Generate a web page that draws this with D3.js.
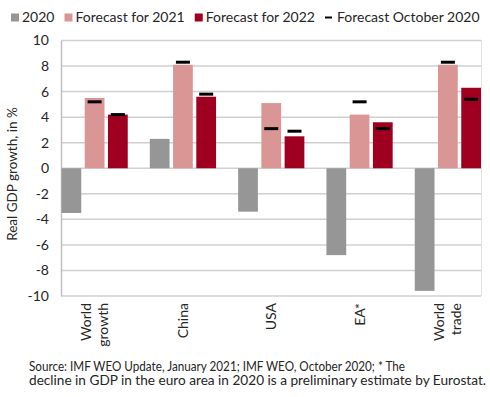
<!DOCTYPE html>
<html>
<head>
<meta charset="utf-8">
<script src="https://cdn.jsdelivr.net/npm/d3@7"></script>
<style>
  body { margin: 0; background: #fff; }
  text { font-family: Lato, "Open Sans", sans-serif; fill: #262626; }
</style>
</head>
<body>
<script>
const width = 490;
const height = 397;

// data
const categories = ["World growth", "China", "USA", "EA*", "World trade"];
const values2020 = [-3.5, 2.3, -3.4, -6.8, -9.6];
const forecast2021 = [5.5, 8.1, 5.1, 4.2, 8.1];
const forecast2022 = [4.2, 5.6, 2.5, 3.6, 6.3];
const october2021 = [5.2, 8.3, 3.1, 5.2, 8.3];
const october2022 = [4.2, 5.8, 2.9, 3.1, 5.4];
const yTicks = [-10, -8, -6, -4, -2, 0, 2, 4, 6, 8, 10];
const seriesNames = ["2020", "Forecast for 2021", "Forecast for 2022"];
const seriesColors = ["#969696", "#da9694", "#a0001f"];
const sourceLines = [
  "Source: IMF WEO Update, January 2021; IMF WEO, October 2020; * The",
  "decline in GDP in the euro area in  2020 is a preliminary estimate by Eurostat."
];

const svg = d3.select("body")
  .append("svg")
  .attr("width", width)
  .attr("height", height);

const x = d3.scaleBand()
  .domain(categories)
  .range([61.5, 481])
  .paddingInner(0.25)
  .paddingOuter(0);

const xInner = d3.scaleBand()
  .domain(seriesNames)
  .range([0, x.bandwidth()])
  .paddingInner(0.15);

const y = d3.scaleLinear()
  .domain([-10, 10])
  .range([296, 40.5]);

// grid
svg.append("g")
  .selectAll("line")
  .data(yTicks)
  .join("line")
  .attr("x1", 61)
  .attr("x2", 481)
  .attr("y1", d => y(d))
  .attr("y2", d => y(d))
  .attr("stroke", "#d0d0d0")
  .attr("stroke-width", 1.5);

// right dotted border
svg.append("line")
  .attr("x1", 481.5).attr("x2", 481.5)
  .attr("y1", y(10)).attr("y2", y(-10))
  .attr("stroke", "#c8c8c8")
  .attr("stroke-dasharray", "1,1");

// y axis
const yAxis = svg.append("g")
  .attr("transform", "translate(61,0)")
  .call(d3.axisLeft(y).tickValues(yTicks).tickFormat(d => String(d)).tickSize(0).tickPadding(12));
yAxis.select(".domain").attr("stroke", "#c0c0c0").attr("stroke-width", 1.5);
yAxis.selectAll("text")
  .style("font-family", "Lato, sans-serif")
  .style("font-size", "14px")
  .attr("fill", "#262626");

svg.append("text")
  .attr("transform", "translate(17," + 174 + ") rotate(-90)")
  .attr("text-anchor", "middle")
  .style("font-size", "13.5px")
  .text("Real GDP growth, in %");

// bars
const rows = categories.map((c, i) => ({
  cat: c,
  vals: [values2020[i], forecast2021[i], forecast2022[i]],
  oct: [null, october2021[i], october2022[i]]
}));

const groups = svg.append("g")
  .selectAll("g")
  .data(rows)
  .join("g")
  .attr("transform", d => "translate(" + x(d.cat) + ",0)");

groups.selectAll("rect")
  .data(d => d.vals.map((v, k) => ({ name: seriesNames[k], v: v, k: k })))
  .join("rect")
  .attr("x", d => xInner(d.name))
  .attr("width", xInner.bandwidth())
  .attr("y", d => y(Math.max(0, d.v)))
  .attr("height", d => Math.abs(y(d.v) - y(0)))
  .attr("fill", d => seriesColors[d.k]);

const dashW = 14;
groups.selectAll("line.oct")
  .data(d => d.oct.map((v, k) => ({ name: seriesNames[k], v: v })).filter(o => o.v !== null))
  .join("line")
  .attr("class", "oct")
  .attr("x1", d => xInner(d.name) + xInner.bandwidth() / 2 - dashW / 2)
  .attr("x2", d => xInner(d.name) + xInner.bandwidth() / 2 + dashW / 2)
  .attr("y1", d => y(d.v))
  .attr("y2", d => y(d.v))
  .attr("stroke", "#000")
  .attr("stroke-width", 3);

// category labels, rotated
const catLabels = svg.append("g")
  .selectAll("text")
  .data(categories)
  .join("text")
  .attr("transform", d => "translate(" + (x(d) + x.bandwidth() / 2) + ",303) rotate(-90)")
  .attr("text-anchor", "end")
  .style("font-size", "14px");

catLabels.each(function(d) {
  const words = d.split(" ");
  const t = d3.select(this);
  const lineH = 17;
  const start = -(words.length - 1) * lineH / 2 + 5;
  words.forEach((w, i) => {
    t.append("tspan")
      .attr("x", 0)
      .attr("y", start + i * lineH)
      .text(w);
  });
});

// legend
const legendItems = [
  { label: seriesNames[0], color: seriesColors[0], type: "box" },
  { label: seriesNames[1], color: seriesColors[1], type: "box" },
  { label: seriesNames[2], color: seriesColors[2], type: "box" },
  { label: "Forecast October 2020", color: "#000", type: "dash" }
];
const legend = svg.append("g");
let lx = 11;
legendItems.forEach(item => {
  if (item.type === "box") {
    legend.append("rect")
      .attr("x", lx).attr("y", 13.5)
      .attr("width", 8).attr("height", 8)
      .attr("fill", item.color);
    lx += 11;
  } else {
    legend.append("line")
      .attr("x1", lx).attr("x2", lx + 7)
      .attr("y1", 17.5).attr("y2", 17.5)
      .attr("stroke", item.color)
      .attr("stroke-width", 2);
    lx += 12;
  }
  const t = legend.append("text")
    .attr("x", lx).attr("y", 22)
    .style("font-size", "14px")
    .text(item.label);
  lx += t.node().getComputedTextLength() + 10;
});

// source note
svg.append("g")
  .selectAll("text")
  .data(sourceLines)
  .join("text")
  .attr("x", 29)
  .attr("y", (d, i) => 371 + i * 14)
  .attr("textLength", (d, i) => i === 0 ? 376 : 457)
  .attr("lengthAdjust", "spacingAndGlyphs")
  .style("font-size", "12.5px")
  .attr("fill", "#000")
  .text(d => d);
</script>
</body>
</html>
